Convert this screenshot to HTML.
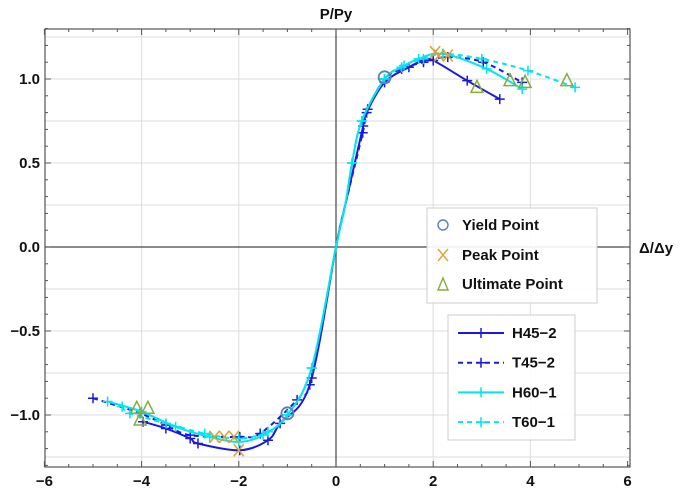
<!DOCTYPE html>
<html><head><meta charset="utf-8"><style>
body{margin:0;background:#fff;}
svg text{font-family:"Liberation Sans",Arial,sans-serif;font-weight:bold;fill:#111;}
</style></head><body>
<svg id="chart" width="685" height="491" viewBox="0 0 685 491" xmlns="http://www.w3.org/2000/svg">
<g id="grid"></g>
<g id="axes"></g>
<g id="series"></g>
<g id="marks"></g>
<g id="legends"></g>
</svg>
<script>
const xTicks=[-6,-4,-2,0,2,4,6];
const yTicks=[-1.0,-0.5,0.0,0.5,1.0];
const seriesNames=["H45-2","T45-2","H60-1","T60-1"];
const h45x=[-3.97,-3.5,-3.0,-2.84,-1.98,-1.4,-1.15,-0.54,0,0.19,0.56,0.63,1.0,1.5,1.8,2.0,2.7,3.37];
const h45y=[-1.04,-1.08,-1.14,-1.17,-1.21,-1.15,-1.05,-0.82,0,0.25,0.72,0.8,0.98,1.07,1.11,1.11,0.99,0.88];
const t45x=[-5.0,-4.03,-3.5,-3.0,-1.98,-1.56,-0.8,-0.5,0,0.19,0.55,0.65,1.0,1.35,1.8,2.3,3.03,3.83];
const t45y=[-0.90,-0.99,-1.06,-1.12,-1.13,-1.11,-0.91,-0.78,0,0.25,0.68,0.82,1.0,1.06,1.10,1.13,1.10,0.98];
const h60x=[-4.7,-4.0,-3.3,-2.6,-2.0,-1.5,-1.0,-0.5,0,0.19,0.33,0.53,1.0,1.35,1.7,2.2,3.1,3.83];
const h60y=[-0.92,-0.98,-1.07,-1.13,-1.16,-1.12,-1.0,-0.72,0,0.25,0.5,0.75,1.0,1.07,1.12,1.15,1.06,0.94];
const t60x=[-4.4,-4.24,-3.5,-2.7,-2.0,-1.4,-1.0,-0.5,0,0.19,0.33,0.53,1.0,1.4,1.8,2.2,3.0,3.95,4.92];
const t60y=[-0.95,-0.99,-1.05,-1.11,-1.14,-1.10,-1.0,-0.72,0,0.25,0.5,0.75,1.0,1.08,1.12,1.15,1.12,1.05,0.95];
const yieldX=[1.0,-1.0];
const yieldY=[1.01,-0.99];
const peakX=[2.04,2.12,2.3,-2.5,-2.3,-2.1,-2.0];
const peakY=[1.16,1.14,1.14,-1.13,-1.13,-1.13,-1.21];
const ultX=[2.9,3.58,3.89,4.75,-4.1,-4.03,-3.87];
const ultY=[0.95,0.99,0.98,0.99,-0.96,-1.03,-0.96];

const NS="http://www.w3.org/2000/svg";
const L=45,R=630,T=29,B=467;
function sx(v){return 336+48.6*v;}
function sy(v){return 247-168*v;}
function mk(tag,attrs,parent){const e=document.createElementNS(NS,tag);for(const k in attrs)e.setAttribute(k,attrs[k]);parent.appendChild(e);return e;}
const grid=document.getElementById('grid'),axes=document.getElementById('axes'),ser=document.getElementById('series'),marks=document.getElementById('marks'),leg=document.getElementById('legends');
mk('rect',{x:L,y:T,width:R-L,height:B-T,fill:'#fff'},grid);
for(let v=-6;v<=6;v+=2){if(v===0||v===-6||v===6)continue;const g=mk('line',{x1:sx(v),x2:sx(v),y1:T,y2:B,stroke:'#ddd','stroke-width':1},grid);}
for(let v=-1.25;v<=1.26;v+=0.25){if(Math.abs(v)<0.01)continue;const g=mk('line',{x1:L,x2:R,y1:sy(v),y2:sy(v),stroke:'#ddd','stroke-width':1},grid);}
const fr=mk('rect',{x:L,y:T,width:R-L,height:B-T,fill:'none',stroke:'#555','stroke-width':1.2},axes);

const xa=mk('line',{x1:L,x2:R,y1:sy(0),y2:sy(0),stroke:'#444','stroke-width':1.2},axes);

const ya=mk('line',{x1:sx(0),x2:sx(0),y1:T,y2:B,stroke:'#444','stroke-width':1.2},axes);

for(let v=-6;v<=6.01;v+=0.5){const len=(Math.abs(v%2)<0.01)?6:3;mk('line',{x1:sx(v),x2:sx(v),y1:B,y2:B-len,stroke:'#555'},axes);mk('line',{x1:sx(v),x2:sx(v),y1:T,y2:T+len,stroke:'#555'},axes);}
for(let i=-13;i<=13;i++){const v=i/10;const len=(i%5===0)?6:3;mk('line',{x1:L,x2:L+len,y1:sy(v),y2:sy(v),stroke:'#555'},axes);mk('line',{x1:R,x2:R-len,y1:sy(v),y2:sy(v),stroke:'#555'},axes);}
xTicks.forEach(v=>{const t=mk('text',{x:sx(v),y:486,'text-anchor':'middle','font-size':15},axes);t.textContent=(v<0?'\u2212'+(-v):String(v));});
yTicks.forEach(v=>{const t=mk('text',{x:40,y:sy(v)+5,'text-anchor':'end','font-size':15},axes);t.textContent=(v<0?'\u2212'+(-v).toFixed(1):v.toFixed(1));});
const yt=mk('text',{x:336,y:19,'text-anchor':'middle','font-size':15},axes);yt.textContent='P/Py';

const xt=mk('text',{x:639,y:253,'font-size':15},axes);xt.textContent='\u0394/\u0394y';


function smoothPath(xs,ys){const p=xs.map((x,i)=>[sx(x),sy(ys[i])]);let d='M'+p[0][0]+','+p[0][1];
for(let i=0;i<p.length-1;i++){const p0=p[i-1]||p[i],p1=p[i],p2=p[i+1],p3=p[i+2]||p2;
const c1=[p1[0]+(p2[0]-p0[0])/6,p1[1]+(p2[1]-p0[1])/6],c2=[p2[0]-(p3[0]-p1[0])/6,p2[1]-(p3[1]-p1[1])/6];
d+=' C'+c1[0]+','+c1[1]+' '+c2[0]+','+c2[1]+' '+p2[0]+','+p2[1];}return d;}
function plus(x,y,c,parent){mk('path',{d:`M${x-5},${y}H${x+5}M${x},${y-5}V${y+5}`,stroke:c,'stroke-width':1.5,fill:'none'},parent);}
const allX=[h45x,t45x,h60x,t60x],allY=[h45y,t45y,h60y,t60y];
const cols=['#1a1adb','#1a1adb','#00e5ee','#00e5ee'],dash=[null,'5,4',null,'5,4'];
const order=[1,0,3,2];
order.forEach(k=>{const g=mk('g',{},ser);
const a={d:smoothPath(allX[k],allY[k]),fill:'none',stroke:cols[k],'stroke-width':2};if(dash[k])a['stroke-dasharray']=dash[k];mk('path',a,g);
allX[k].forEach((x,i)=>{if(x!==0&&x!==0.19)plus(sx(x),sy(allY[k][i]),cols[k],g);});});
yieldX.forEach((x,i)=>{const c=mk('circle',{cx:sx(x),cy:sy(yieldY[i]),r:6,fill:'none',stroke:'#5a7fb5','stroke-width':1.8},marks);});
peakX.forEach((x,i)=>{const X=sx(x),Y=sy(peakY[i]);const p=mk('path',{d:`M${X-5},${Y-6}L${X+5},${Y+6}M${X+5},${Y-6}L${X-5},${Y+6}`,stroke:'#e0a030','stroke-width':1.5},marks);});
ultX.forEach((x,i)=>{const X=sx(x),Y=sy(ultY[i]);const p=mk('path',{d:`M${X},${Y-7}L${X+6},${Y+5}L${X-6},${Y+5}Z`,stroke:'#8aab3a','stroke-width':1.5,fill:'none'},marks);});
const lg1=mk('g',{},leg);
mk('rect',{x:427,y:208,width:170,height:95,fill:'#fff','fill-opacity':0.9,stroke:'#ccc'},lg1);
mk('circle',{cx:443,cy:225,r:5,fill:'none',stroke:'#5a7fb5','stroke-width':1.4},lg1);
mk('path',{d:'M438,249L448,261M448,249L438,261',stroke:'#e0a030','stroke-width':1.4},lg1);
mk('path',{d:'M443,278L448,290L438,290Z',stroke:'#8aab3a','stroke-width':1.4,fill:'none'},lg1);
[['Yield Point',230],['Peak Point',260],['Ultimate Point',289]].forEach(([s,y])=>{const t=mk('text',{x:462,y:y,'font-size':15},lg1);t.textContent=s;});
const lg2=mk('g',{},leg);
mk('rect',{x:448,y:315,width:127,height:125,fill:'#fff','fill-opacity':0.9,stroke:'#ccc'},lg2);
seriesNames.forEach((s,k)=>{const y=333+k*29.7;const a={x1:458,x2:504,y1:y,y2:y,stroke:cols[k],'stroke-width':2};if(dash[k])a['stroke-dasharray']=dash[k];mk('line',a,lg2);plus(481,y,cols[k],lg2);
const t=mk('text',{x:512,y:y+5,'font-size':15},lg2);t.textContent=s.replace('-','\u2212');});
</script>
</body></html>
